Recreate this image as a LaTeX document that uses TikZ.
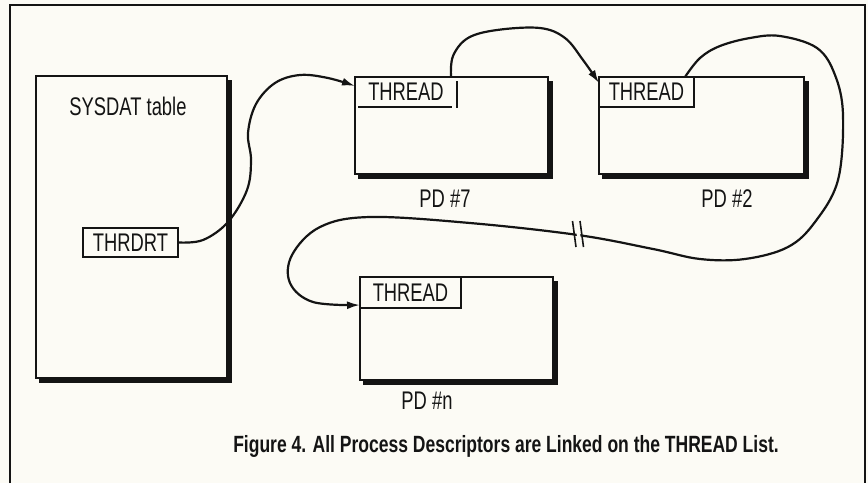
\documentclass[tikz,border=0pt]{standalone}
\usepackage{fontspec}
\setmainfont{Liberation Sans}
\newfontfamily\lblfont[FakeStretch=0.72]{Liberation Sans}
\newfontfamily\figcapfont[FakeStretch=0.745]{Liberation Sans Bold}
\usetikzlibrary{arrows.meta}
\definecolor{ink}{RGB}{20,20,20}
\definecolor{paper}{RGB}{252,251,245}
\tikzset{
  bigbox/.style={draw=ink, line width=1.6pt, inner sep=0pt, outer sep=0pt, anchor=north west},
  subbox/.style={draw=ink, line width=1.5pt, inner sep=0pt, outer sep=0pt, anchor=north west,
                 font=\lblfont\fontsize{25.5}{25.5}\selectfont, text=ink},
  lab/.style={font=\lblfont\fontsize{25.5}{25.5}\selectfont, text=ink, inner sep=0pt},
  shadowline/.style={draw=ink, line width=5.5pt, line join=miter},
  link/.style={draw=ink, line width=2.2pt, -{Latex[length=13pt,width=8pt]}},
  thinline/.style={draw=ink, line width=1.5pt},
}
\begin{document}
\begin{tikzpicture}[x=1pt,y=-1pt]
\useasboundingbox (0,0) rectangle (868,483);
\fill[paper] (0,0) rectangle (868,483);
% outer frame (open at the bottom edge)
\draw[ink, line width=1.4pt] (10,483) -- (10,5) -- (865,5) -- (865,483);

% SYSDAT table
\node[bigbox, minimum width=191pt, minimum height=302pt] (sys) at (36,76) {};
\draw[shadowline] ([shift={(2.5,2.5)}]sys.south west) -- ([shift={(2.5,2.5)}]sys.south east) -- ([shift={(2.5,4)}]sys.north east);
\node[lab] (systxt) at (128,106) {SYSDAT table};
\node[draw=ink, line width=1.5pt, inner sep=0pt, minimum width=95pt, minimum height=29pt,
      font=\lblfont\fontsize{25.5}{25.5}\selectfont, text=ink] (thr) at (130.5,242.5) {THRDRT};

% PD #7
\node[bigbox, minimum width=193pt, minimum height=97pt] (pd7) at (355,77) {};
\draw[shadowline] ([shift={(2.5,2.5)}]pd7.south west) -- ([shift={(2.5,2.5)}]pd7.south east) -- ([shift={(2.5,4)}]pd7.north east);
\node[subbox, draw=none, minimum width=102pt, minimum height=30pt] (t7) at (355,77) {THREAD};
\draw[thinline] (358,107) -- (452,107);
\draw[thinline] (457,81) -- (457,108);
\node[lab] (l7) at (445,199) {PD \#7};

% PD #2
\node[bigbox, minimum width=205pt, minimum height=97pt] (pd2) at (599,77) {};
\draw[shadowline] ([shift={(2.5,2.5)}]pd2.south west) -- ([shift={(2.5,2.5)}]pd2.south east) -- ([shift={(2.5,4)}]pd2.north east);
\node[subbox, minimum width=95pt, minimum height=30pt] (t2) at (599,77) {THREAD};
\node[lab] (l2) at (727,199) {PD \#2};

% PD #n
\node[bigbox, minimum width=193pt, minimum height=103pt] (pdn) at (360,277) {};
\draw[shadowline] ([shift={(2.5,2.5)}]pdn.south west) -- ([shift={(2.5,2.5)}]pdn.south east) -- ([shift={(2.5,4)}]pdn.north east);
\node[subbox, minimum width=101pt, minimum height=31pt] (tn) at (360,277) {THREAD};
\node[lab] (ln) at (427,401) {PD \#n};

% connector anchors
\coordinate (in7) at ([yshift=-9pt]pd7.north west);
\coordinate (out7) at ([xshift=-6pt]t7.north east);
\coordinate (in2) at ([yshift=-6pt]pd2.north west);
\coordinate (out2) at ([xshift=-9pt]t2.north east);
\coordinate (inn) at ([yshift=-28pt]pdn.north west);

% THRDRT -> PD #7
\draw[link] plot[smooth, tension=0.6] coordinates {(thr.east) (203,240) (228,222) (247,190) (251,160) (248,133) (256,104) (275,83) (300,75) (328,78) (in7)};
% PD #7 -> PD #2
\draw[link] plot[smooth, tension=0.6] coordinates {(out7) (453,56) (468,38) (497,30) (540,28) (565,38) (583,60) (in2)};
% PD #2 -> PD #n
\draw[link] plot[smooth, tension=0.6] coordinates {(out2) (700,58) (720,46) (750,38) (780,36) (817,48) (835,75) (843,115) (838,180) (815,222) (788,247) (745,259) (700,259) (653,249) (578,235) (470,223) (370,217) (320,227) (292,255) (290,283) (313,302) (inn)};

% break mark
\fill[paper] (575.5,226) -- (579,226) -- (581.5,244) -- (578,244) -- cycle;
\draw[ink, line width=1.6pt] (572.5,221) -- (576,247);
\draw[ink, line width=1.6pt] (580,221) -- (583.5,247);

% caption
\node[font=\figcapfont\fontsize{23.5}{23.5}\selectfont, text=ink, inner sep=0pt] (cap) at (506,446)
  {Figure 4. All Process Descriptors are Linked on the THREAD List.};
\end{tikzpicture}
\end{document}
